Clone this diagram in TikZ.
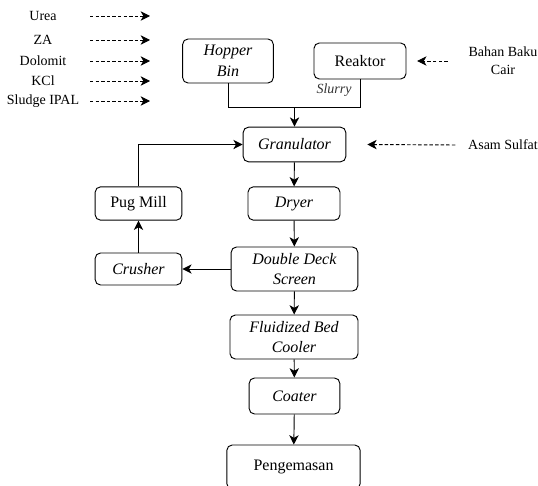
\documentclass[tikz,border=0pt]{standalone}
\usepackage{fontspec}
\newfontfamily\serifbaku{Liberation Serif}
\usetikzlibrary{arrows.meta, positioning}
\tikzstyle{block} = [draw, rectangle, rounded corners=4pt, align=center, font=\serifbaku\fontsize{12}{15.5}\selectfont]
\tikzstyle{feed} = [align=center, font=\serifbaku\fontsize{10.5}{13.5}\selectfont]
\tikzstyle{feedline} = [dash pattern=on 2.6pt off 1.6pt]
\newcommand{\alat}[1]{\textit{#1}}

\begin{document}
\begin{tikzpicture}[x=0.75pt, y=-0.75pt, line width=0.7pt, >={Stealth[length=7pt,width=7pt,inset=2pt]}]
    \clip (0,0) rectangle (538,485);
    \node [block, minimum width=68pt, minimum height=33pt] (hopper) at (228,61) {\alat{Hopper}\\\alat{Bin}};
    \node [block, minimum width=69pt, minimum height=27pt] (reaktor) at (360,61) {Reaktor};
    \node [block, minimum width=77pt, minimum height=26pt] (gran) at (294.5,144.5) {\alat{Granulator}};
    \node [block, minimum width=69pt, minimum height=25pt] (dryer) at (294,203.5) {\alat{Dryer}};
    \node [block, minimum width=95pt, minimum height=33pt] (dds) at (294.5,269) {\alat{Double Deck}\\\alat{Screen}};
    \node [block, minimum width=65pt, minimum height=24pt] (crusher) at (138.5,269) {\alat{Crusher}};
    \node [block, minimum width=65pt, minimum height=25pt] (pugmill) at (138.5,203.5) {Pug Mill};
    \node [block, minimum width=96pt, minimum height=33pt] (fbc) at (294,337) {\alat{Fluidized Bed}\\\alat{Cooler}};
    \node [block, minimum width=68pt, minimum height=27pt] (coater) at (294.5,396) {\alat{Coater}};
    \node [block, minimum width=100pt, minimum height=33pt] (kemas) at (293.5,467) {Pengemasan};

    \node [feed, font=\serifbaku\fontsize{10.5}{12}\selectfont\itshape, text=black!80] (slurry) at (334,90) {Slurry};
    \node [feed] (bahan) at (503,61) {Bahan Baku\\Cair};
    \node [feed, anchor=west] (asam) at (463.3,145) {Asam Sulfat};

    \foreach \name/\y/\txt in {urea/16/Urea, za/40/ZA, dolomit/61/Dolomit, kcl/81/KCl, sludge/101/Sludge IPAL} {
        \node [feed] (\name) at (43,\y) {\txt};
        \coordinate (\name-a) at (90,\y);
        \coordinate (\name-b) at (150,\y);
        \draw [feedline, ->] (\name-a) -- (\name-b);
    }

    \coordinate (merge) at (294.5,107);
    \draw (hopper.south) |- (merge);
    \draw (reaktor.south) |- (merge);
    \draw [->] (merge) -- (gran);
    \draw [feedline, ->] ([xshift=-12pt]bahan.west) -- ([xshift=8pt]reaktor.east);
    \draw [feedline, ->] ([xshift=-6pt]asam.west) -- ([xshift=15.75pt]gran.east);
    \draw [->] (gran) -- (dryer);
    \draw [->] (dryer) -- (dds);
    \draw [->] (dds) -- (crusher);
    \draw [->] (crusher) -- (pugmill);
    \draw [->] (pugmill.north) |- (gran.west);
    \draw [->] (dds) -- (fbc);
    \draw [->] (fbc) -- (coater);
    \draw [->] (coater) -- (kemas);
\end{tikzpicture}
\end{document}
